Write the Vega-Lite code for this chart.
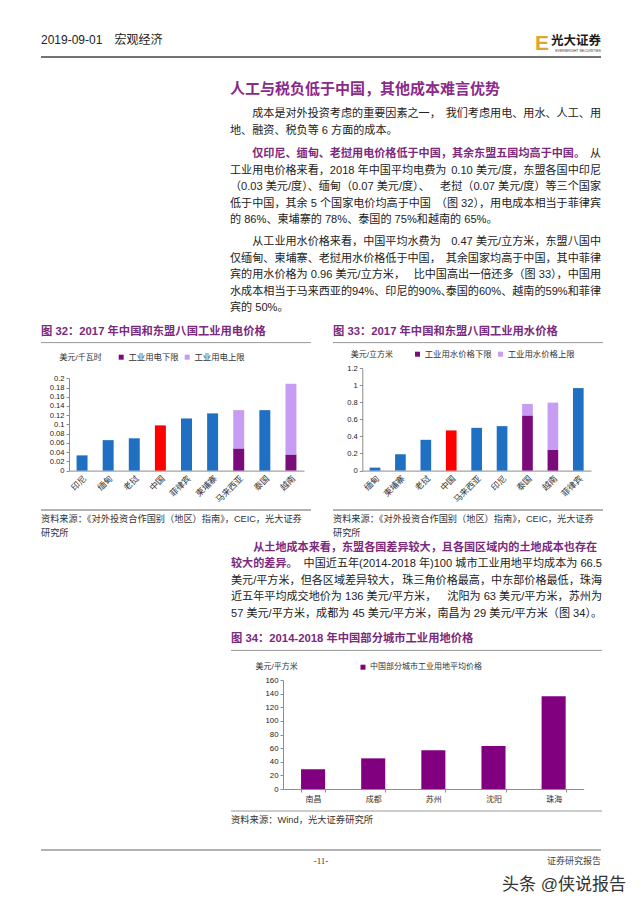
{
 "$schema": "https://vega.github.io/schema/vega-lite/v6.json",
 "background": "white",
 "padding": {"left": 40, "right": 40, "top": 0, "bottom": 0},
 "spacing": 0,
 "resolve": {"scale": {"color": "independent", "x": "independent", "y": "independent"}, "legend": {"color": "independent"}},
 "config": {
  "view": {"stroke": null},
  "font": "Liberation Sans, Noto Sans CJK SC, sans-serif"
 },
 "datasets": {
  "text": [
   {"para": 1, "line": 1, "part": "前", "em": false, "text": "成本是对外投资考虑的重要因素之一，"},
   {"para": 1, "line": 1, "part": "后", "em": false, "text": "我们考虑用电、用水、人工、用"},
   {"para": 1, "line": 2, "part": "前", "em": false, "text": "地、融资、税负等 6 方面的成本。"},
   {"para": 2, "line": 1, "part": "前", "em": true, "text": "仅印尼、缅甸、老挝用电价格低于中国，其余东盟五国均高于中国。"},
   {"para": 2, "line": 1, "part": "后", "em": false, "text": "从"},
   {"para": 2, "line": 2, "part": "前", "em": false, "text": "工业用电价格来看，2018 年中国平均电费为"},
   {"para": 2, "line": 2, "part": "后", "em": false, "text": "0.10 美元/度，东盟各国中印尼"},
   {"para": 2, "line": 3, "part": "前", "em": false, "text": "（0.03 美元/度）、缅甸（0.07 美元/度）、"},
   {"para": 2, "line": 3, "part": "后", "em": false, "text": "老挝（0.07 美元/度）等三个国家"},
   {"para": 2, "line": 4, "part": "前", "em": false, "text": "低于中国，其余 5 个国家电价均高于中国"},
   {"para": 2, "line": 4, "part": "后", "em": false, "text": "（图 32），用电成本相当于菲律宾"},
   {"para": 2, "line": 5, "part": "前", "em": false, "text": "的 86%、柬埔寨的 78%、泰国的 75%和越南的 65%。"},
   {"para": 3, "line": 1, "part": "前", "em": false, "text": "从工业用水价格来看，中国平均水费为"},
   {"para": 3, "line": 1, "part": "后", "em": false, "text": "0.47 美元/立方米，东盟八国中"},
   {"para": 3, "line": 2, "part": "前", "em": false, "text": "仅缅甸、柬埔寨、老挝用水价格低于中国，"},
   {"para": 3, "line": 2, "part": "后", "em": false, "text": "其余国家均高于中国，其中菲律"},
   {"para": 3, "line": 3, "part": "前", "em": false, "text": "宾的用水价格为 0.96 美元/立方米，"},
   {"para": 3, "line": 3, "part": "后", "em": false, "text": "比中国高出一倍还多（图 33），中国用"},
   {"para": 3, "line": 4, "part": "前", "em": false, "text": "水成本相当于马来西亚的94%、印尼的90%、"},
   {"para": 3, "line": 4, "part": "后", "em": false, "text": "泰国的60%、越南的59%和菲律"},
   {"para": 3, "line": 5, "part": "前", "em": false, "text": "宾的 50%。"},
   {"para": 4, "line": 1, "part": "前", "em": true, "text": "从土地成本来看，东盟各国差异较大，且各国区域内的土地成本也存在"},
   {"para": 4, "line": 2, "part": "前", "em": true, "text": "较大的差异。"},
   {"para": 4, "line": 2, "part": "后", "em": false, "text": "中国近五年(2014-2018 年)100 城市工业用地平均成本为 66.5"},
   {"para": 4, "line": 3, "part": "前", "em": false, "text": "美元/平方米，但各区域差异较大，"},
   {"para": 4, "line": 3, "part": "后", "em": false, "text": "珠三角价格最高，中东部价格最低，珠海"},
   {"para": 4, "line": 4, "part": "前", "em": false, "text": "近五年平均成交地价为 136 美元/平方米，"},
   {"para": 4, "line": 4, "part": "后", "em": false, "text": "沈阳为 63 美元/平方米，苏州为"},
   {"para": 4, "line": 5, "part": "前", "em": false, "text": "57 美元/平方米，成都为 45 美元/平方米，南昌为 29 美元/平方米（图 34）。"}
  ],
  "elec": [
   {"国家": "印尼", "系列": "工业用电价格", "低": 0, "高": 0.033},
   {"国家": "缅甸", "系列": "工业用电价格", "低": 0, "高": 0.066},
   {"国家": "老挝", "系列": "工业用电价格", "低": 0, "高": 0.07},
   {"国家": "中国", "系列": "中国", "低": 0, "高": 0.098},
   {"国家": "菲律宾", "系列": "工业用电价格", "低": 0, "高": 0.113},
   {"国家": "柬埔寨", "系列": "工业用电价格", "低": 0, "高": 0.124},
   {"国家": "马来西亚", "系列": "工业用电下限", "低": 0, "高": 0.048},
   {"国家": "马来西亚", "系列": "工业用电上限", "低": 0.048, "高": 0.131},
   {"国家": "泰国", "系列": "工业用电价格", "低": 0, "高": 0.131},
   {"国家": "越南", "系列": "工业用电下限", "低": 0, "高": 0.035},
   {"国家": "越南", "系列": "工业用电上限", "低": 0.035, "高": 0.188}
  ],
  "water": [
   {"国家": "缅甸", "系列": "工业用水价格", "低": 0, "高": 0.035},
   {"国家": "柬埔寨", "系列": "工业用水价格", "低": 0, "高": 0.19},
   {"国家": "老挝", "系列": "工业用水价格", "低": 0, "高": 0.36},
   {"国家": "中国", "系列": "中国", "低": 0, "高": 0.47},
   {"国家": "马来西亚", "系列": "工业用水价格", "低": 0, "高": 0.5},
   {"国家": "印尼", "系列": "工业用水价格", "低": 0, "高": 0.52},
   {"国家": "泰国", "系列": "工业用水价格下限", "低": 0, "高": 0.645},
   {"国家": "泰国", "系列": "工业用水价格上限", "低": 0.645, "高": 0.78},
   {"国家": "越南", "系列": "工业用水价格下限", "低": 0, "高": 0.245},
   {"国家": "越南", "系列": "工业用水价格上限", "低": 0.245, "高": 0.795},
   {"国家": "菲律宾", "系列": "工业用水价格", "低": 0, "高": 0.965}
  ],
  "land": [
   {"城市": "南昌", "系列": "中国部分城市工业用地平均价格", "价格": 29},
   {"城市": "成都", "系列": "中国部分城市工业用地平均价格", "价格": 45},
   {"城市": "苏州", "系列": "中国部分城市工业用地平均价格", "价格": 57},
   {"城市": "沈阳", "系列": "中国部分城市工业用地平均价格", "价格": 63},
   {"城市": "珠海", "系列": "中国部分城市工业用地平均价格", "价格": 136}
  ]
 },
 "vconcat": [
  {
   "width": 560, "height": 57,
   "data": {"values": [{"日期": "2019-09-01　宏观经济", "标": "E", "公司": "光大证券", "英文": "EVERBRIGHT SECURITIES"}]},
   "layer": [
    {"mark": {"type": "text", "align": "left", "baseline": "bottom", "dy": -10, "fontSize": 12, "color": "#222"},
     "encoding": {"x": {"value": 0}, "y": {"value": "height"}, "text": {"field": "日期"}}},
    {"mark": {"type": "text", "align": "left", "baseline": "bottom", "dx": -66, "dy": -3, "fontSize": 21, "fontWeight": "bold", "color": "#dba632"},
     "encoding": {"x": {"value": "width"}, "y": {"value": "height"}, "text": {"field": "标"}}},
    {"mark": {"type": "text", "align": "right", "baseline": "bottom", "dy": -9, "fontSize": 12.5, "fontWeight": "bold", "color": "#1a1a1a"},
     "encoding": {"x": {"value": "width"}, "y": {"value": "height"}, "text": {"field": "公司"}}},
    {"mark": {"type": "text", "align": "right", "baseline": "bottom", "dy": -4, "fontSize": 3.6, "color": "#333"},
     "encoding": {"x": {"value": "width"}, "y": {"value": "height"}, "text": {"field": "英文"}}},
    {"mark": {"type": "rule", "color": "#444", "strokeWidth": 1.3},
     "encoding": {"x": {"value": 0}, "x2": {"value": "width"}, "y": {"value": "height"}}}
   ]
  },
  {
   "hconcat": [
    {"width": 189, "height": 1, "data": {"values": []}, "mark": "point"},
    {
     "vconcat": [
      {"width": 371, "height": 44.5,
       "data": {"values": [{"文本": "人工与税负低于中国，其他成本难言优势"}]},
       "mark": {"type": "text", "align": "left", "baseline": "bottom", "dy": -6, "fontSize": 15, "fontWeight": "bold", "color": "#8a2a8a"},
       "encoding": {"x": {"value": 0}, "y": {"value": "height"}, "text": {"field": "文本"}}},
      {"width": 371, "height": {"step": 16.4},
       "data": {"name": "text"},
       "transform": [{"filter": "datum.para == 1"}],
       "encoding": {"y": {"field": "line", "type": "ordinal", "axis": null, "scale": {"padding": 0.7}}},
       "layer": [
        {"transform": [{"filter": "datum.part == '前' && !datum.em && datum.line > 1"}], "mark": {"type": "text", "align": "left", "fontSize": 11.1, "color": "#222"}, "encoding": {"x": {"value": 0}, "text": {"field": "text"}}},
        {"transform": [{"filter": "datum.part == '前' && !datum.em && datum.line == 1"}], "mark": {"type": "text", "align": "left", "dx": 22.2, "fontSize": 11.1, "color": "#222"}, "encoding": {"x": {"value": 0}, "text": {"field": "text"}}},
        {"transform": [{"filter": "datum.part == '后'"}], "mark": {"type": "text", "align": "right", "fontSize": 11.1, "color": "#222"}, "encoding": {"x": {"value": "width"}, "text": {"field": "text"}}}
       ]},
      {"width": 371, "height": {"step": 16.4},
       "data": {"name": "text"},
       "transform": [{"filter": "datum.para == 2"}],
       "encoding": {"y": {"field": "line", "type": "ordinal", "axis": null, "scale": {"padding": 0.7}}},
       "layer": [
        {"transform": [{"filter": "datum.part == '前' && !datum.em && datum.line > 1"}], "mark": {"type": "text", "align": "left", "fontSize": 11.1, "color": "#222"}, "encoding": {"x": {"value": 0}, "text": {"field": "text"}}},
        {"transform": [{"filter": "datum.part == '前' && datum.em && datum.line == 1"}], "mark": {"type": "text", "align": "left", "dx": 22.2, "fontSize": 11.1, "fontWeight": "bold", "color": "#7b2a7e"}, "encoding": {"x": {"value": 0}, "text": {"field": "text"}}},
        {"transform": [{"filter": "datum.part == '后'"}], "mark": {"type": "text", "align": "right", "fontSize": 11.1, "color": "#222"}, "encoding": {"x": {"value": "width"}, "text": {"field": "text"}}}
       ]},
      {"width": 371, "height": 86.6,
       "data": {"name": "text"},
       "transform": [{"filter": "datum.para == 3"}],
       "encoding": {"y": {"field": "line", "type": "ordinal", "axis": null, "scale": {"padding": 0.64}}},
       "layer": [
        {"transform": [{"filter": "datum.part == '前' && !datum.em && datum.line > 1"}], "mark": {"type": "text", "align": "left", "fontSize": 11.1, "color": "#222"}, "encoding": {"x": {"value": 0}, "text": {"field": "text"}}},
        {"transform": [{"filter": "datum.part == '前' && !datum.em && datum.line == 1"}], "mark": {"type": "text", "align": "left", "dx": 22.2, "fontSize": 11.1, "color": "#222"}, "encoding": {"x": {"value": 0}, "text": {"field": "text"}}},
        {"transform": [{"filter": "datum.part == '后'"}], "mark": {"type": "text", "align": "right", "fontSize": 11.1, "color": "#222"}, "encoding": {"x": {"value": "width"}, "text": {"field": "text"}}}
       ]}
     ],
     "spacing": 0, "bounds": "flush"
    }
   ],
   "spacing": 0
  },
  {
   "hconcat": [
    {
     "vconcat": [
      {"width": 270, "height": 23.6,
       "data": {"values": [{"标题": "图 32：2017 年中国和东盟八国工业用电价格"}]},
       "layer": [
        {"mark": {"type": "text", "align": "left", "baseline": "bottom", "dy": -6, "fontSize": 11.3, "fontWeight": "bold", "color": "#7a2a7c"},
         "encoding": {"x": {"value": 0}, "y": {"value": "height"}, "text": {"field": "标题"}}},
        {"mark": {"type": "rule", "color": "#999", "strokeWidth": 1},
         "encoding": {"x": {"value": 0}, "x2": {"value": "width"}, "y": {"value": "height"}}}
       ]},
      {"width": 270, "height": 166.3,
       "data": {"name": "elec"},
       "mark": {"type": "bar"},
       "encoding": {
        "x": {"field": "国家", "type": "nominal", "sort": null, "scale": {"range": [28, 263], "paddingInner": 0.58, "paddingOuter": 0.29},
              "axis": {"title": null, "offset": -38.7, "labelAngle": -45, "labelFontSize": 8.6, "labelColor": "#333", "ticks": false, "labelPadding": 3, "domainColor": "#8c8c8c", "labelOverlap": false}},
        "y": {"field": "高", "type": "quantitative", "scale": {"domain": [0, 0.2], "nice": false, "range": [127.6, 35.3]},
              "axis": {"offset": -28, "values": [0, 0.02, 0.04, 0.06, 0.08, 0.1, 0.12, 0.14, 0.16, 0.18, 0.2], "format": "~g", "grid": false, "domainColor": "#8c8c8c", "tickColor": "#8c8c8c", "tickSize": 3, "labelFontSize": 7.6, "labelColor": "#222", "labelPadding": 2, "labelOverlap": false,
                       "title": "美元/千瓦时", "titleAngle": 0, "titleX": -10, "titleY": 14.3, "titleAlign": "left", "titleBaseline": "middle", "titleFontWeight": "normal", "titleFontSize": 8, "titleColor": "#333"}},
        "y2": {"field": "低"},
        "color": {"field": "系列", "type": "nominal",
                  "scale": {"domain": ["工业用电价格", "中国", "工业用电下限", "工业用电上限"], "range": ["#1f6fc2", "#ff0000", "#7b0a7b", "#c79df3"]},
                  "legend": {"values": ["工业用电下限", "工业用电上限"], "orient": "none", "legendX": 76, "legendY": 9.8, "direction": "horizontal", "title": null, "symbolType": "square", "symbolSize": 25, "symbolStrokeWidth": 0, "labelFontSize": 8.4, "labelColor": "#333", "columnPadding": 4, "labelOffset": 3}}
       }},
      {"width": 270, "height": {"step": 14},
       "data": {"values": [{"line": 1, "text": "资料来源：《对外投资合作国别（地区）指南》，CEIC，光大证券"}, {"line": 2, "text": "研究所"}]},
       "layer": [
        {"mark": {"type": "rule", "color": "#999", "strokeWidth": 1},
         "encoding": {"x": {"value": 0}, "x2": {"value": "width"}, "y": {"value": 0}}},
        {"mark": {"type": "text", "align": "left", "fontSize": 9.2, "color": "#333"},
         "encoding": {"x": {"value": 0}, "y": {"field": "line", "type": "ordinal", "axis": null, "scale": {"padding": 0.64}}, "text": {"field": "text"}}}
       ]}
     ],
     "spacing": 0, "bounds": "flush",
     "resolve": {"scale": {"color": "independent", "x": "independent", "y": "independent"}, "legend": {"color": "independent"}}
    },
    {
     "vconcat": [
      {"width": 270, "height": 23.6,
       "data": {"values": [{"标题": "图 33：2017 年中国和东盟八国工业用水价格"}]},
       "layer": [
        {"mark": {"type": "text", "align": "left", "baseline": "bottom", "dy": -6, "fontSize": 11.3, "fontWeight": "bold", "color": "#7a2a7c"},
         "encoding": {"x": {"value": 0}, "y": {"value": "height"}, "text": {"field": "标题"}}},
        {"mark": {"type": "rule", "color": "#999", "strokeWidth": 1},
         "encoding": {"x": {"value": 0}, "x2": {"value": "width"}, "y": {"value": "height"}}}
       ]},
      {"width": 270, "height": 166.3,
       "data": {"name": "water"},
       "mark": {"type": "bar"},
       "encoding": {
        "x": {"field": "国家", "type": "nominal", "sort": null, "scale": {"range": [29.3, 258], "paddingInner": 0.58, "paddingOuter": 0.29},
              "axis": {"title": null, "offset": -38.7, "labelAngle": -45, "labelFontSize": 8.6, "labelColor": "#333", "ticks": false, "labelPadding": 3, "domainColor": "#8c8c8c", "labelOverlap": false}},
        "y": {"field": "高", "type": "quantitative", "scale": {"domain": [0, 1.2], "nice": false, "range": [127.6, 25]},
              "axis": {"offset": -29.3, "values": [0, 0.2, 0.4, 0.6, 0.8, 1, 1.2], "format": "~g", "grid": false, "domainColor": "#8c8c8c", "tickColor": "#8c8c8c", "tickSize": 3, "labelFontSize": 7.6, "labelColor": "#222", "labelPadding": 2, "labelOverlap": false,
                       "title": "美元/立方米", "titleAngle": 0, "titleX": -12, "titleY": 11.3, "titleAlign": "left", "titleBaseline": "middle", "titleFontWeight": "normal", "titleFontSize": 8, "titleColor": "#333"}},
        "y2": {"field": "低"},
        "color": {"field": "系列", "type": "nominal",
                  "scale": {"domain": ["工业用水价格", "中国", "工业用水价格下限", "工业用水价格上限"], "range": ["#1f6fc2", "#ff0000", "#7b0a7b", "#c79df3"]},
                  "legend": {"values": ["工业用水价格下限", "工业用水价格上限"], "orient": "none", "legendX": 80.3, "legendY": 6.8, "direction": "horizontal", "title": null, "symbolType": "square", "symbolSize": 25, "symbolStrokeWidth": 0, "labelFontSize": 8.4, "labelColor": "#333", "columnPadding": 4, "labelOffset": 3}}
       }},
      {"width": 270, "height": {"step": 14},
       "data": {"values": [{"line": 1, "text": "资料来源：《对外投资合作国别（地区）指南》，CEIC，光大证券"}, {"line": 2, "text": "研究所"}]},
       "layer": [
        {"mark": {"type": "rule", "color": "#999", "strokeWidth": 1},
         "encoding": {"x": {"value": 0}, "x2": {"value": "width"}, "y": {"value": 0}}},
        {"mark": {"type": "text", "align": "left", "fontSize": 9.2, "color": "#333"},
         "encoding": {"x": {"value": 0}, "y": {"field": "line", "type": "ordinal", "axis": null, "scale": {"padding": 0.64}}, "text": {"field": "text"}}}
       ]}
     ],
     "spacing": 0, "bounds": "flush",
     "resolve": {"scale": {"color": "independent", "x": "independent", "y": "independent"}, "legend": {"color": "independent"}}
    }
   ],
   "spacing": 20,
   "resolve": {"scale": {"color": "independent", "x": "independent", "y": "independent"}, "legend": {"color": "independent"}}
  },
  {
   "hconcat": [
    {"width": 189, "height": 1, "data": {"values": []}, "mark": "point"},
    {
     "vconcat": [
      {"width": 371, "height": {"step": 16.4},
       "data": {"name": "text"},
       "transform": [{"filter": "datum.para == 4"}],
       "encoding": {"y": {"field": "line", "type": "ordinal", "axis": null, "scale": {"padding": 0.305, "align": 0.3}}},
       "layer": [
        {"transform": [{"filter": "datum.part == '前' && !datum.em"}], "mark": {"type": "text", "align": "left", "fontSize": 11.1, "color": "#222"}, "encoding": {"x": {"value": 0}, "text": {"field": "text"}}},
        {"transform": [{"filter": "datum.part == '前' && datum.em && datum.line == 1"}], "mark": {"type": "text", "align": "left", "dx": 22.2, "fontSize": 11.1, "fontWeight": "bold", "color": "#7b2a7e"}, "encoding": {"x": {"value": 0}, "text": {"field": "text"}}},
        {"transform": [{"filter": "datum.part == '前' && datum.em && datum.line > 1"}], "mark": {"type": "text", "align": "left", "fontSize": 11.1, "fontWeight": "bold", "color": "#7b2a7e"}, "encoding": {"x": {"value": 0}, "text": {"field": "text"}}},
        {"transform": [{"filter": "datum.part == '后'"}], "mark": {"type": "text", "align": "right", "fontSize": 11.1, "color": "#222"}, "encoding": {"x": {"value": "width"}, "text": {"field": "text"}}}
       ]},
      {"width": 371, "height": 29.4,
       "data": {"values": [{"标题": "图 34：2014-2018 年中国部分城市工业用地价格"}]},
       "layer": [
        {"mark": {"type": "text", "align": "left", "baseline": "bottom", "dy": -6, "fontSize": 11.3, "fontWeight": "bold", "color": "#7a2a7c"},
         "encoding": {"x": {"value": 0}, "y": {"value": "height"}, "text": {"field": "标题"}}},
        {"mark": {"type": "rule", "color": "#999", "strokeWidth": 1},
         "encoding": {"x": {"value": 0}, "x2": {"value": "width"}, "y": {"value": "height"}}}
       ]},
      {"width": 371, "height": 160,
       "data": {"name": "land"},
       "mark": {"type": "bar"},
       "encoding": {
        "x": {"field": "城市", "type": "nominal", "sort": null, "scale": {"range": [52, 352.7], "paddingInner": 0.6, "paddingOuter": 0.3},
              "axis": {"title": null, "offset": -22, "labelAngle": 0, "labelFontSize": 8, "labelColor": "#333", "ticks": true, "tickBand": "extent", "tickSize": 3, "tickColor": "#8c8c8c", "labelPadding": 3, "domainColor": "#8c8c8c"}},
        "y": {"field": "价格", "type": "quantitative", "scale": {"domain": [0, 160], "nice": false, "range": [138, 29]},
              "axis": {"offset": -52, "values": [0, 20, 40, 60, 80, 100, 120, 140, 160], "grid": false, "domainColor": "#8c8c8c", "tickColor": "#8c8c8c", "tickSize": 3, "labelFontSize": 7.8, "labelColor": "#222", "labelPadding": 2, "labelOverlap": false,
                       "title": "美元/平方米", "titleAngle": 0, "titleX": -28, "titleY": 15.7, "titleAlign": "left", "titleBaseline": "middle", "titleFontWeight": "normal", "titleFontSize": 8, "titleColor": "#333"}},
        "color": {"field": "系列", "type": "nominal", "scale": {"range": ["#800080"]},
                  "legend": {"orient": "none", "legendX": 128, "legendY": 12.2, "direction": "horizontal", "title": null, "symbolType": "square", "symbolSize": 25, "symbolStrokeWidth": 0, "labelFontSize": 8, "labelColor": "#333", "labelOffset": 3}}
       }},
      {"width": 371, "height": 18,
       "data": {"values": [{"line": 1, "text": "资料来源：Wind，光大证券研究所"}]},
       "layer": [
        {"mark": {"type": "rule", "color": "#999", "strokeWidth": 1},
         "encoding": {"x": {"value": 0}, "x2": {"value": "width"}, "y": {"value": 0}}},
        {"mark": {"type": "text", "align": "left", "fontSize": 9.3, "color": "#333"},
         "encoding": {"x": {"value": 0}, "y": {"field": "line", "type": "ordinal", "axis": null}, "text": {"field": "text"}}}
       ]},
      {"width": 371, "height": 20, "data": {"values": []}, "mark": "point"}
     ],
     "spacing": 0, "bounds": "flush",
     "resolve": {"scale": {"color": "independent", "x": "independent", "y": "independent"}, "legend": {"color": "independent"}}
    }
   ],
   "spacing": 0,
   "resolve": {"scale": {"color": "independent", "x": "independent", "y": "independent"}, "legend": {"color": "independent"}}
  },
  {
   "width": 560, "height": 57,
   "data": {"values": [{"页码": "-11-", "类别": "证券研究报告", "水印": "头条 @侠说报告"}]},
   "layer": [
    {"mark": {"type": "rule", "color": "#666", "strokeWidth": 1},
     "encoding": {"x": {"value": 0}, "x2": {"value": "width"}, "y": {"value": 0}}},
    {"mark": {"type": "text", "align": "center", "baseline": "top", "dy": 7, "fontSize": 9, "font": "Liberation Serif", "color": "#333"},
     "encoding": {"y": {"value": 0}, "text": {"field": "页码"}}},
    {"mark": {"type": "text", "align": "right", "baseline": "top", "dy": 7, "fontSize": 9, "color": "#444"},
     "encoding": {"x": {"value": "width"}, "y": {"value": 0}, "text": {"field": "类别"}}},
    {"mark": {"type": "text", "align": "right", "baseline": "bottom", "dx": 25, "dy": -13, "fontSize": 17, "color": "#333"},
     "encoding": {"x": {"value": "width"}, "y": {"value": "height"}, "text": {"field": "水印"}}}
   ]
  }
 ]
}
